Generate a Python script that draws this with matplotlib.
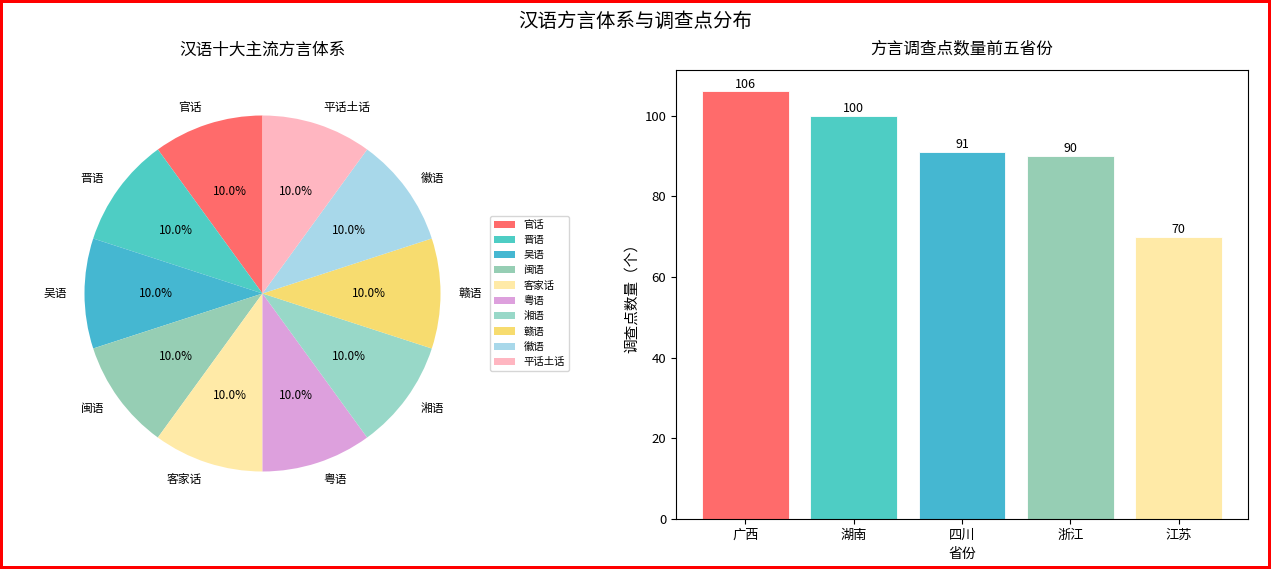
"""汉语方言体系与调查点分布 — 饼图 + 柱状图"""
import matplotlib
matplotlib.use('Agg')
import matplotlib.pyplot as plt

# 数据
dialects = ['官话', '晋语', '吴语', '闽语', '客家话', '粤语', '湘语', '赣语', '徽语', '平话土话']
dialect_share = [10, 10, 10, 10, 10, 10, 10, 10, 10, 10]
pie_colors = ['#FF6B6B', '#4ECDC4', '#45B7D1', '#96CEB4', '#FFEAA7',
              '#DDA0DD', '#98D8C8', '#F7DC6F', '#A8D8EA', '#FFB6C1']

provinces = ['广西', '湖南', '四川', '浙江', '江苏']
survey_points = [106, 100, 91, 90, 70]
bar_colors = ['#FF6B6B', '#4ECDC4', '#45B7D1', '#96CEB4', '#FFEAA7']

plt.rcParams['font.family'] = ['Noto Sans CJK SC', 'DejaVu Sans']
plt.rcParams['axes.unicode_minus'] = False

W, H = 1271, 569
fig = plt.figure(figsize=(W / 100, H / 100), dpi=100,
                 edgecolor='red', linewidth=3)

# ── 左：饼图 ─────────────────────────────────────────────
ax1 = fig.add_axes([40 / W, (H - 516) / H, 445 / W, 445 / H])
wedges, texts, autotexts = ax1.pie(dialect_share, labels=dialects, colors=pie_colors,
                                   autopct='%1.1f%%', startangle=90,
                                   textprops={'fontsize': 8.5})
ax1.set_aspect('equal')
ax1.set_title('汉语十大主流方言体系', fontsize=12, pad=12)
ax1.legend(wedges, dialects, loc='center left', bbox_to_anchor=(1, 0.5), fontsize=7.5)

# ── 右：柱状图 ───────────────────────────────────────────
ax2 = fig.add_axes([676 / W, (H - 519) / H, 572 / W, 449 / H])
bars = ax2.bar(provinces, survey_points, color=bar_colors, edgecolor='white', linewidth=0.6)
for b, v in zip(bars, survey_points):
    ax2.text(b.get_x() + b.get_width() / 2, v + 0.2, f'{v}',
             ha='center', va='bottom', fontsize=9)
ax2.set_title('方言调查点数量前五省份', fontsize=12, pad=12)
ax2.set_xlabel('省份', fontsize=10)
ax2.set_ylabel('调查点数量（个）', fontsize=10.5)
ax2.tick_params(labelsize=9.5)

fig.suptitle('汉语方言体系与调查点分布', fontsize=14, y=0.98)

plt.savefig('out.png', dpi=100, edgecolor=fig.get_edgecolor())
